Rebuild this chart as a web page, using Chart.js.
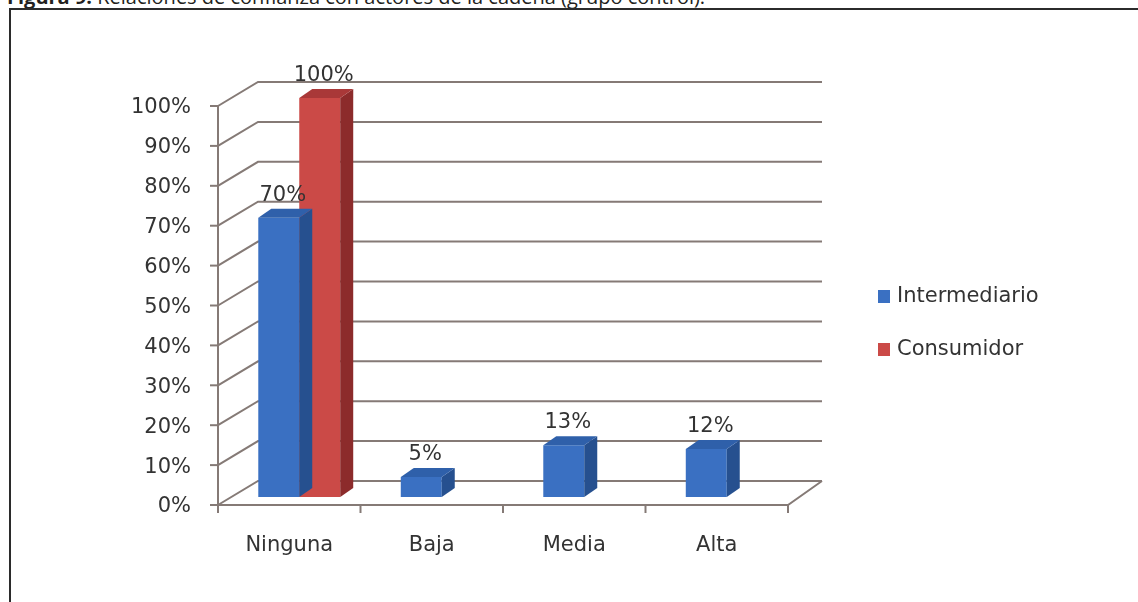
<!DOCTYPE html>
<html>
<head>
<meta charset="utf-8">
<title>Relaciones de confianza</title>
<script src="https://cdn.jsdelivr.net/npm/chart.js@4.4.1/dist/chart.umd.min.js"></script>
<style>
  html, body { margin: 0; padding: 0; background: #fff; overflow: hidden; }
  #wrap { position: relative; width: 1138px; height: 602px; overflow: hidden; }
  #caption { position: absolute; left: 7px; top: -17px; font: 20px "Open Sans", sans-serif; color: #231f20; white-space: nowrap; }
  #caption b { font-weight: 700; }
  #frame { position: absolute; left: 9px; top: 8px; width: 1200px; height: 700px; border: 2px solid #2b2b2b; box-sizing: border-box; }
  #chartBox { position: absolute; left: 0; top: 0; width: 1138px; height: 602px; }
</style>
</head>
<body>
<div id="wrap">
  <div id="caption"><b>Figura 9.</b> Relaciones de confianza con actores de la cadena (grupo control).</div>
  <div id="frame"></div>
  <div id="chartBox"><canvas id="trustChart"></canvas></div>
</div>
<script>
// categories and values (percent)
const categories = ['Ninguna', 'Baja', 'Media', 'Alta'];
const intermediario = [70, 5, 13, 12];
const consumidor = [100, 0, 0, 0];
const yTicks = [0, 10, 20, 30, 40, 50, 60, 70, 80, 90, 100];
const yTickLabels = yTicks.map(v => v + '%');

// colours for each series: front, side and top faces
const blueFaces = { front: '#3a70c2', side: '#26508f', top: '#2f60aa' };
const redFaces = { front: '#cb4a47', side: '#8c2b2b', top: '#a93838' };
const gridColor = '#857a76';
const textColor = '#333333';
const font = '21px "DejaVu Sans", sans-serif';

// 3D offsets relative to the plane the bars stand on
const FRONT = { dx: -10, dy: 8 };
const BACK_L = { dx: 30, dy: -16 };
const BACK_R = { dx: 24, dy: -16 };
const BAR_DEPTH = { dx: 13, dy: -9 };

const walls = {
    id: 'walls',
    beforeDatasetsDraw(chart) {
        const { ctx, chartArea: a, scales: { x, y } } = chart;
        const y0 = y.getPixelForValue(0);
        ctx.save();
        ctx.strokeStyle = gridColor;
        ctx.lineWidth = 2;

        // back wall gridlines with the diagonal on the side wall
        yTicks.forEach(v => {
            const py = y.getPixelForValue(v);
            ctx.beginPath();
            ctx.moveTo(a.left + FRONT.dx, py + FRONT.dy);
            ctx.lineTo(a.left + BACK_L.dx, py + BACK_L.dy);
            ctx.lineTo(a.right + BACK_R.dx, py + BACK_R.dy);
            ctx.stroke();
        });

        // floor: front edge and right edge
        ctx.beginPath();
        ctx.moveTo(a.left + FRONT.dx, y0 + FRONT.dy);
        ctx.lineTo(a.right + FRONT.dx, y0 + FRONT.dy);
        ctx.lineTo(a.right + BACK_R.dx, y0 + BACK_R.dy);
        ctx.stroke();

        // value axis on the front
        const yTop = y.getPixelForValue(100);
        ctx.beginPath();
        ctx.moveTo(a.left + FRONT.dx, yTop + FRONT.dy);
        ctx.lineTo(a.left + FRONT.dx, y0 + FRONT.dy + 8);
        ctx.stroke();

        ctx.font = font;
        ctx.fillStyle = textColor;
        ctx.textAlign = 'right';
        ctx.textBaseline = 'middle';
        yTicks.forEach((v, i) => {
            const py = y.getPixelForValue(v) + FRONT.dy;
            ctx.beginPath();
            ctx.moveTo(a.left + FRONT.dx - 8, py);
            ctx.lineTo(a.left + FRONT.dx, py);
            ctx.stroke();
            ctx.fillText(yTickLabels[i], a.left + FRONT.dx - 27, py + 2);
        });

        // category ticks and labels
        const step = x.getPixelForValue(1) - x.getPixelForValue(0);
        ctx.textAlign = 'center';
        categories.forEach((c, i) => {
            const cx = x.getPixelForValue(i) + FRONT.dx;
            const edge = cx + step / 2;
            ctx.beginPath();
            ctx.moveTo(edge, y0 + FRONT.dy);
            ctx.lineTo(edge, y0 + FRONT.dy + 8);
            ctx.stroke();
            ctx.fillText(c, cx, y0 + FRONT.dy + 41);
        });
        ctx.restore();
    },

    // side and top faces right after each series so the next one covers them
    afterDatasetDraw(chart, args) {
        const { ctx } = chart;
        const faces = args.index === 0 ? blueFaces : redFaces;
        const values = chart.data.datasets[args.index].data;
        ctx.save();
        args.meta.data.forEach((bar, i) => {
            if (!values[i]) return;
            const { x, y, base, width } = bar.getProps(['x', 'y', 'base', 'width'], true);
            const l = x - width / 2, r = x + width / 2;
            ctx.fillStyle = faces.side;
            ctx.beginPath();
            ctx.moveTo(r, y);
            ctx.lineTo(r + BAR_DEPTH.dx, y + BAR_DEPTH.dy);
            ctx.lineTo(r + BAR_DEPTH.dx, base + BAR_DEPTH.dy);
            ctx.lineTo(r, base);
            ctx.closePath();
            ctx.fill();
            ctx.fillStyle = faces.top;
            ctx.beginPath();
            ctx.moveTo(l, y);
            ctx.lineTo(l + BAR_DEPTH.dx, y + BAR_DEPTH.dy);
            ctx.lineTo(r + BAR_DEPTH.dx, y + BAR_DEPTH.dy);
            ctx.lineTo(r, y);
            ctx.closePath();
            ctx.fill();
        });
        ctx.restore();
    },

    afterDatasetsDraw(chart) {
        const { ctx } = chart;
        ctx.save();
        ctx.font = font;
        ctx.fillStyle = textColor;
        ctx.textAlign = 'center';
        ctx.textBaseline = 'alphabetic';
        chart.data.datasets.forEach((ds, d) => {
            chart.getDatasetMeta(d).data.forEach((bar, i) => {
                if (!ds.data[i]) return;
                ctx.fillText(ds.data[i] + '%', bar.x + 4, bar.y - 17);
            });
        });

        // legend
        ctx.textAlign = 'left';
        ctx.textBaseline = 'middle';
        chart.data.datasets.forEach((ds, d) => {
            const ly = 290 + d * 53;
            ctx.fillStyle = ds.backgroundColor;
            ctx.fillRect(878, ly, 12, 13);
            ctx.fillStyle = textColor;
            ctx.fillText(ds.label, 897, ly + 7);
        });
        ctx.restore();
    }
};

new Chart(document.getElementById('trustChart'), {
    type: 'bar',
    data: {
        labels: categories,
        datasets: [
            { label: 'Intermediario', data: intermediario, backgroundColor: blueFaces.front },
            { label: 'Consumidor', data: consumidor, backgroundColor: redFaces.front }
        ]
    },
    options: {
        responsive: true,
        maintainAspectRatio: false,
        animation: false,
        layout: { padding: { left: 228, right: 340, top: 98, bottom: 105 } },
        datasets: { bar: { categoryPercentage: 0.575, barPercentage: 1 } },
        scales: {
            x: { display: false },
            y: { display: false, min: 0, max: 100 }
        },
        plugins: {
            legend: { display: false },
            tooltip: { enabled: false }
        }
    },
    plugins: [walls]
});
</script>
</body>
</html>
